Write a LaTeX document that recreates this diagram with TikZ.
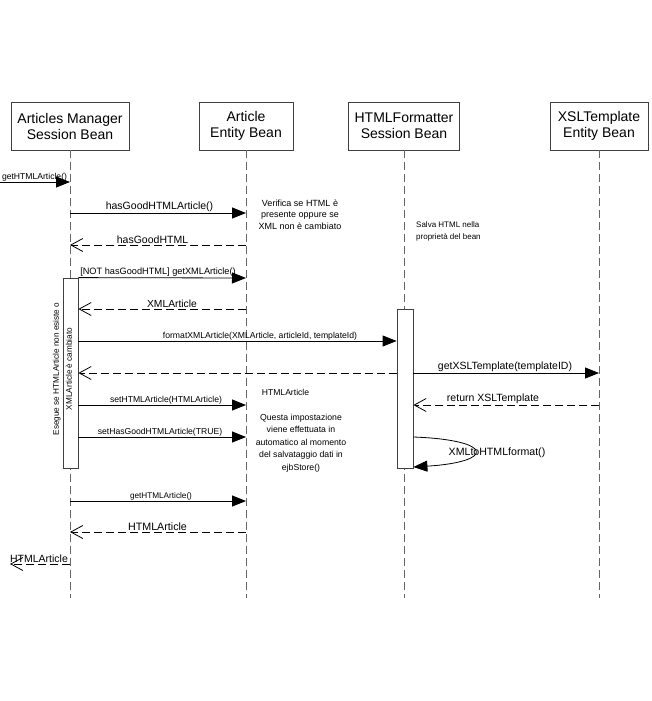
\documentclass[tikz,border=0pt]{standalone}
\usepackage{fontspec}
\setmainfont{Liberation Sans}
\usetikzlibrary{arrows.meta}
\begin{document}
\begin{tikzpicture}[x=1pt,y=-1pt,
  obj/.style={draw=black!75, line width=0.8pt, minimum height=48pt, align=center, font=\fontsize{14}{16}\selectfont, inner sep=0pt},
  life/.style={draw=black!60, line width=1pt, dash pattern=on 7.5pt off 4.5pt},
  act/.style={draw=black!75, fill=white, line width=0.8pt, inner sep=0pt},
  call/.style={draw=black, line width=0.8pt, -{Triangle[length=14pt,width=11pt]}},
  ret/.style={draw=black, line width=0.8pt, dash pattern=on 8pt off 4pt, -{Straight Barb[length=12pt,width=13pt]}},
  lbl/.style={anchor=south, inner sep=1pt},
  note/.style={align=center, inner sep=0pt}
]
\useasboundingbox (0,0) rectangle (651,701);

% objects
\node[obj, minimum width=118pt] (b1) at (70,126) {Articles Manager\\Session Bean};
\node[obj, minimum width=94pt] (b2) at (246,126) {Article\\Entity Bean};
\node[obj, minimum width=111pt] (b3) at (404,126) {HTMLFormatter\\Session Bean};
\node[obj, minimum width=98pt] (b4) at (599,126) {XSLTemplate\\Entity Bean};

% lifelines
\coordinate (e1) at (70,598);
\coordinate (e2) at (246,598);
\coordinate (e3) at (404,598);
\coordinate (e4) at (599,598);
\draw[life] (b1.south) -- (e1);
\draw[life] (b2.south) -- (e2);
\draw[life] (b3.south) -- (e3);
\draw[life] (b4.south) -- (e4);

% activations
\node[act, minimum width=15pt, minimum height=190pt] (a1) at (70.5,373) {};
\node[act, minimum width=16pt, minimum height=159pt] (a3) at (405,388.5) {};

% vertical note
\node[note, rotate=90, font=\fontsize{8.2}{13}\selectfont] (vn) at (62.5,369) {Esegue se HTMLArticle non esiste o\\XMLArticle è cambiato};

% messages
\coordinate (src) at (0,182);
\draw[call] (src) -- (b1.south |- 0,182);
\node[lbl, font=\fontsize{8.6}{10}\selectfont] (l1) at (34.5,182) {getHTMLArticle()};

\draw[call] (b1.south |- 0,213) -- (b2.south |- 0,213);
\node[lbl, font=\fontsize{10.5}{12}\selectfont] (l2) at (159.5,213) {hasGoodHTMLArticle()};

\draw[ret] (b2.south |- 0,245) -- (b1.south |- 0,245);
\node[lbl, font=\fontsize{10.5}{12}\selectfont] (l3) at (152.5,245) {hasGoodHTML};

\draw[call] (a1.north east) -- (b2.south |- 0,278);
\node[lbl, font=\fontsize{9.2}{11}\selectfont] (l4) at (158,278) {[NOT hasGoodHTML] getXMLArticle()};

\draw[ret] (b2.south |- 0,309) -- (a1.east |- 0,309);
\node[lbl, font=\fontsize{10.3}{12}\selectfont] (l5) at (172,309) {XMLArticle};

\draw[call] (a1.east |- 0,341) -- (a3.west |- 0,341);
\node[lbl, font=\fontsize{8.65}{10}\selectfont] (l6) at (260,341) {formatXMLArticle(XMLArticle, articleId, templateId)};

\draw[ret] (a3.west |- 0,373) -- (a1.east |- 0,373);

\draw[call] (a3.east |- 0,373) -- (b4.south |- 0,373);
\node[lbl, font=\fontsize{10.5}{12}\selectfont] (l8) at (505,373) {getXSLTemplate(templateID)};

\draw[ret] (b4.south |- 0,405) -- (a3.east |- 0,405);
\node[lbl, font=\fontsize{10.5}{12}\selectfont] (l9) at (493,405) {return XSLTemplate};

\draw[call] (a1.east |- 0,405) -- (b2.south |- 0,405);
\node[lbl, font=\fontsize{8.6}{10}\selectfont] (l10) at (166,405) {setHTMLArticle(HTMLArticle)};

\draw[call] (a1.east |- 0,437) -- (b2.south |- 0,437);
\node[lbl, font=\fontsize{8.6}{10}\selectfont] (l11) at (160,437) {setHasGoodHTMLArticle(TRUE)};

\draw[call] (a3.east |- 0,437) .. controls (495,440) and (495,462) .. (a3.east |- 0,467);
\node[font=\fontsize{10.6}{12}\selectfont, inner sep=0pt] (l12) at (497,453) {XMLtoHTMLformat()};

\draw[call] (b1.south |- 0,501) -- (b2.south |- 0,501);
\node[lbl, font=\fontsize{8.2}{10}\selectfont] (l13) at (161,501) {getHTMLArticle()};

\draw[ret] (b2.south |- 0,532) -- (b1.south |- 0,532);
\node[lbl, font=\fontsize{10.7}{12}\selectfont] (l14) at (157.5,532) {HTMLArticle};

\coordinate (dst) at (10,564);
\draw[ret] (b1.south |- 0,564) -- (dst);
\node[lbl, font=\fontsize{10.5}{12}\selectfont] (l15) at (39,564) {HTMLArticle};

% notes
\node[note, font=\fontsize{9}{11.5}\selectfont] (n1) at (300,214.5) {Verifica se HTML è\\presente oppure se\\XML non è cambiato};
\node[note, font=\fontsize{8}{12}\selectfont, align=left, anchor=west] (n2) at (416,231) {Salva HTML nella\\proprietà del bean};
\node[note, font=\fontsize{8.6}{10}\selectfont] (n3) at (285.5,392) {HTMLArticle};
\node[note, font=\fontsize{8.7}{12.4}\selectfont] (n4) at (301,443) {Questa impostazione\\viene effettuata in\\automatico al momento\\del salvataggio dati in\\ejbStore()};
\end{tikzpicture}
\end{document}
